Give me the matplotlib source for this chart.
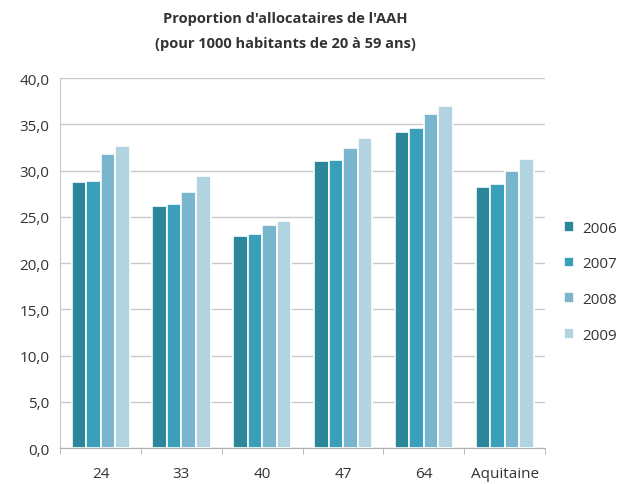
import matplotlib
matplotlib.use('Agg')
from matplotlib import pyplot as plt
import numpy as np

plt.rcParams['font.family'] = ['Open Sans', 'DejaVu Sans']

categories = ['24', '33', '40', '47', '64', 'Aquitaine']
years = ['2006', '2007', '2008', '2009']
values = {
    '2006': [28.8, 26.2, 22.9, 31.0, 34.2, 28.2],
    '2007': [28.9, 26.4, 23.1, 31.1, 34.6, 28.5],
    '2008': [31.8, 27.7, 24.1, 32.4, 36.1, 29.9],
    '2009': [32.7, 29.4, 24.5, 33.5, 37.0, 31.2],
}
colors = ['#2b8799', '#3a9fbb', '#79b6cd', '#b2d3e0']

fig = plt.figure(figsize=(6.28, 4.85), dpi=100)
ax = fig.add_axes([0.096, 0.074, 0.772, 0.763])

x = np.arange(len(categories))
w = 0.18
for i, yr in enumerate(years):
    ax.bar(x + (i - 1.5) * w, values[yr], w, color=colors[i],
           edgecolor='white', linewidth=1.2, label=yr, zorder=3)

ax.set_xlim(-0.5, len(categories) - 0.5)
ax.set_ylim(0, 40)
ax.set_yticks(np.arange(0, 41, 5))
ax.set_yticklabels([f'{v:.1f}'.replace('.', ',') for v in np.arange(0, 41, 5)])
ax.yaxis.grid(True, color='#c8c8c8', linewidth=1, zorder=0)
ax.tick_params(axis='y', length=0, labelsize=11, colors='#333333', pad=8)

ax.set_xticks(x)
ax.set_xticklabels(categories)
ax.tick_params(axis='x', length=0, labelsize=11, colors='#333333', pad=13)
ax.set_xticks(np.arange(-0.5, len(categories)), minor=True)
ax.tick_params(axis='x', which='minor', length=4, color='#b0b0b0')

for s in ['top', 'right']:
    ax.spines[s].set_visible(False)
ax.spines['left'].set_color('#c8c8c8')
ax.spines['bottom'].set_color('#b0b0b0')

fig.text(0.455, 0.935, "Proportion d'allocataires de l'AAH\n(pour 1000 habitants de 20 à 59 ans)",
         ha='center', va='center', fontsize=10.5, fontweight='bold', color='#333333',
         linespacing=2.0)

ax.legend(loc='center left', bbox_to_anchor=(1.01, 0.45), frameon=False,
          fontsize=11, handlelength=0.7, handleheight=0.7, labelspacing=1.35,
          handletextpad=0.5, labelcolor='#333333')

fig.savefig('out.png', dpi=100)
